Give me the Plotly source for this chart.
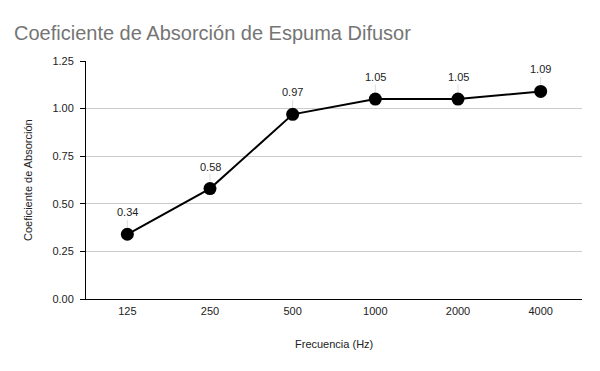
import plotly.graph_objects as go

frecuencias = ["125", "250", "500", "1000", "2000", "4000"]
coeficientes = [0.34, 0.58, 0.97, 1.05, 1.05, 1.09]
y_ticks = [0, 0.25, 0.5, 0.75, 1.0, 1.25]
y_tick_labels = ["0.00", "0.25", "0.50", "0.75", "1.00", "1.25"]

FONT = "Liberation Sans, Arial, sans-serif"
posiciones = list(range(len(frecuencias)))

fig = go.Figure()
fig.add_trace(go.Scatter(
    x=posiciones, y=coeficientes, mode="lines+markers",
    line=dict(color="black", width=2),
    marker=dict(color="black", size=13),
    showlegend=False, cliponaxis=False,
))

for p, c in zip(posiciones, coeficientes):
    fig.add_annotation(
        x=p, y=c, xref="x", yref="y", text=f"{c:.2f}", showarrow=True, arrowhead=0,
        arrowwidth=1, arrowcolor="#dddddd", ax=0, ay=-22, standoff=7,
        font=dict(family=FONT, size=11, color="#222222"),
    )

fig.add_annotation(text="Frecuencia (Hz)", xref="paper", yref="paper", x=0.5, y=-45/238,
                   xanchor="center", yanchor="middle", showarrow=False,
                   font=dict(family=FONT, size=11, color="#222222"))
fig.add_annotation(text="Coeficiente de Absorción", xref="paper", yref="paper", x=-58/496, y=0.5,
                   xanchor="center", yanchor="middle", showarrow=False, textangle=-90,
                   font=dict(family=FONT, size=11, color="#222222"))

fig.update_layout(
    width=600, height=371,
    margin=dict(l=86, r=18, t=61, b=72),
    paper_bgcolor="white", plot_bgcolor="white",
    title=dict(text="Coeficiente de Absorción de Espuma Difusor",
               x=14/600, xanchor="left", y=1-33/371, yanchor="middle",
               font=dict(family=FONT, size=20, color="#757575")),
    font=dict(family=FONT, size=11, color="#222222"),
)
fig.update_xaxes(
    range=[-0.5, len(frecuencias) - 0.5], tickvals=posiciones, ticktext=frecuencias,
    showgrid=False, showline=True, linecolor="black", linewidth=1, zeroline=False,
    ticks="", tickfont=dict(size=11, color="#222222"), automargin=False,
    ticklabelstandoff=2,
)
fig.update_yaxes(
    range=[0, 1.25], tickvals=y_ticks, ticktext=y_tick_labels,
    showgrid=True, gridcolor="#cccccc", gridwidth=1,
    showline=True, linecolor="black", linewidth=1,
    ticks="outside", ticklen=5, tickcolor="black", zeroline=False,
    tickfont=dict(size=11, color="#222222"), automargin=False,
    ticklabelstandoff=4,
)

fig.write_html("out.html", config={"displayModeBar": False},
               post_script="document.body.style.margin='0';")
